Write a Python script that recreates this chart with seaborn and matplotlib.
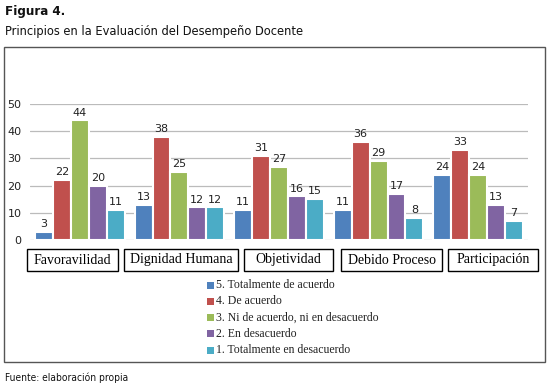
import matplotlib
matplotlib.use("Agg")
import matplotlib.pyplot as plt
import matplotlib.patches as mpatches
from matplotlib import font_manager
import seaborn as sns
import pandas as pd

categories = ["Favoravilidad", "Dignidad Humana", "Objetividad", "Debido Proceso", "Participación"]
series = ["5. Totalmente de acuerdo", "4. De acuerdo", "3. Ni de acuerdo, ni en desacuerdo",
          "2. En desacuerdo", "1. Totalmente en desacuerdo"]
s5 = [3, 13, 11, 11, 24]
s4 = [22, 38, 31, 36, 33]
s3 = [44, 25, 27, 29, 24]
s2 = [20, 12, 16, 17, 13]
s1 = [11, 12, 15, 8, 7]
yticks = [0, 10, 20, 30, 40, 50]
colors = ["#4F81BD", "#C0504D", "#9BBB59", "#8064A2", "#4BACC6"]

rows = []
for name, vals in zip(series, [s5, s4, s3, s2, s1]):
    for c, v in zip(categories, vals):
        rows.append({"cat": c, "serie": name, "val": v})
df = pd.DataFrame(rows)

sns.set_style("white")
plt.rcParams["font.family"] = ["DejaVu Sans"]

names = {f.name for f in font_manager.fontManager.ttflist}
narrow = "Liberation Sans Narrow" if "Liberation Sans Narrow" in names else "DejaVu Sans"
narrow_stretch = "normal" if narrow != "DejaVu Sans" else "condensed"

W, H = 553, 389
fig = plt.figure(figsize=(W / 100, H / 100), dpi=100)

def fx(px):
    return px / W

def fy(py):
    return 1 - py / H

# outer frame
fig.patches.append(mpatches.Rectangle((fx(4), fy(362)), fx(545) - fx(4), fy(47) - fy(362),
                                      transform=fig.transFigure, fill=False,
                                      edgecolor="#555555", linewidth=1.0))

ax = fig.add_axes([fx(30), fy(240), fx(528) - fx(30), fy(104) - fy(240)])
sns.barplot(data=df, x="cat", y="val", hue="serie", order=categories, hue_order=series,
            palette=colors, width=0.9, ax=ax, legend=False, saturation=1,
            edgecolor="white", linewidth=1.5)
ax.set_ylim(0, 50)
ax.set_yticks(yticks)
ax.set_yticklabels([str(t) for t in yticks], fontsize=8, color="#222222")
ax.tick_params(axis="y", length=0, pad=6)
ax.set_xticks([])
ax.set_xlabel("")
ax.set_ylabel("")
for sp in ax.spines.values():
    sp.set_visible(False)
ax.yaxis.grid(True, color="#BBBBBB", linewidth=0.9)
ax.set_axisbelow(True)
ax.set_xlim(-0.5, len(categories) - 0.5)

for cont in ax.containers:
    ax.bar_label(cont, fontsize=8, padding=2, color="#222222")

# category boxes
box_x = [(27, 118), (124, 238), (244, 333), (341, 442), (448, 538)]
for (x0, x1), c in zip(box_x, categories):
    fig.patches.append(mpatches.Rectangle((fx(x0), fy(271)), fx(x1) - fx(x0), fy(249) - fy(271),
                                          transform=fig.transFigure, fill=False,
                                          edgecolor="black", linewidth=1.0))
    fig.text((fx(x0) + fx(x1)) / 2, (fy(249) + fy(271)) / 2, c, ha="center", va="center",
             fontsize=10, family=["Liberation Serif"], color="black")

# legend
for i, (name, col) in enumerate(zip(series, colors)):
    yc = 285 + i * 16.3
    fig.patches.append(mpatches.Rectangle((fx(207), fy(yc + 3.5)), fx(7), fx(7) * W / H,
                                          transform=fig.transFigure, facecolor=col,
                                          edgecolor="none"))
    fig.text(fx(216), fy(yc), name, ha="left", va="center", fontsize=8.5,
             family=["Liberation Serif"], color="#222222")

fig.text(fx(5), fy(12), "Figura 4.", ha="left", va="center", fontsize=9.5, fontweight="bold",
         family=[narrow], fontstretch=narrow_stretch, color="#111111")
fig.text(fx(5), fy(31), "Principios en la Evaluación del Desempeño Docente", ha="left",
         va="center", fontsize=9.2, family=[narrow], fontstretch=narrow_stretch,
         color="#111111")
fig.text(fx(5), fy(378), "Fuente: elaboración propia", ha="left", va="center", fontsize=7.3,
         family=[narrow], fontstretch=narrow_stretch, color="#111111")

fig.savefig("out.png", dpi=100)
